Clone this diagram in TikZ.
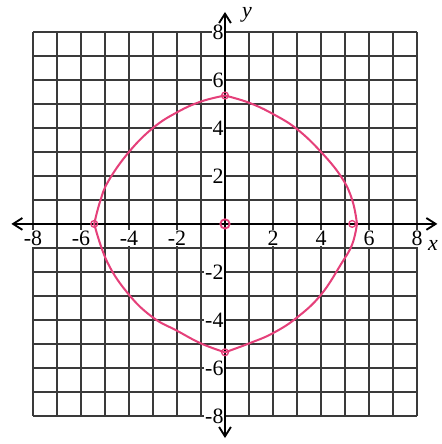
\documentclass[tikz,border=0pt]{standalone}
\usepackage{fontspec}
\setmainfont{Liberation Serif}
\usepackage{xcolor}
\usepackage{tikz}
\usetikzlibrary{arrows.meta}

\begin{document}
\begin{tikzpicture}[font=\fontsize{26}{30}\selectfont]
  \definecolor{curvepink}{HTML}{E5407A}
  \definecolor{gridgray}{HTML}{3A3A3A}
  \tikzset{
    gridline/.style={gridgray, line width=1.5pt},
    axisline/.style={black, line width=2.2pt,
      {Straight Barb[length=11pt,width=14pt]}-{Straight Barb[length=11pt,width=14pt]}},
    curveline/.style={curvepink, line width=2.4pt, line join=round, line cap=round},
    ticklabel/.style={fill=white, inner sep=1pt},
    ptmark/.style={circle, draw=curvepink, line width=1.6pt, minimum size=8pt, inner sep=0pt}
  }
  \useasboundingbox (-9.375,-9.17) rectangle (9.04,9.33);

  \draw[gridline] (-8,-8) grid (8,8);

  \coordinate (xleft) at (-8.9,0);
  \coordinate (xright) at (8.85,0);
  \coordinate (ybottom) at (0,-8.92);
  \coordinate (ytop) at (0,8.83);
  \draw[axisline] (xleft) -- (xright);
  \draw[axisline] (ybottom) -- (ytop);

  \node (xname) at (8.67,-0.88) {\itshape x};
  \node (yname) at (0.92,8.72) {\itshape y};

  \foreach \i in {-8,-6,-4,-2,2,4,6,8} {
    \node[ticklabel] (xtick\i) at (\i,-0.6) {\i};
    \node[ticklabel, anchor=east] (ytick\i) at (-0.02,\i) {\i};
  }

  % the closed curve, one quadrant at a time
  \draw[curveline] plot[smooth, tension=0.7] coordinates
    {(0,5.35) (1,5.05) (2,4.58) (3,3.95) (4,3.0) (4.85,1.95) (5.3,1.0) (5.5,0)};
  \draw[curveline] plot[smooth, tension=0.7] coordinates
    {(5.5,0) (5.3,-0.85) (4.85,-1.65) (4,-2.95) (3,-3.9) (2,-4.55) (1,-4.98) (0,-5.35)};
  \draw[curveline] plot[smooth, tension=0.7] coordinates
    {(0,-5.35) (-1,-4.98) (-2,-4.45) (-3,-3.9) (-4,-2.95) (-4.9,-1.6) (-5.45,0)};
  \draw[curveline] plot[smooth, tension=0.7] coordinates
    {(-5.45,0) (-5.2,0.95) (-4.85,1.8) (-4,3.0) (-3,4.0) (-2,4.65) (-1,5.1) (0,5.35)};

  \node[ptmark] (ptop) at (0,5.35) {};
  \node[ptmark] (pright) at (5.3,0) {};
  \node[ptmark] (pleft) at (-5.45,0) {};
  \node[ptmark] (pbottom) at (0,-5.35) {};
  \node[ptmark, minimum size=11pt, line width=2.2pt] (porigin) at (0,0) {};
\end{tikzpicture}
\end{document}
